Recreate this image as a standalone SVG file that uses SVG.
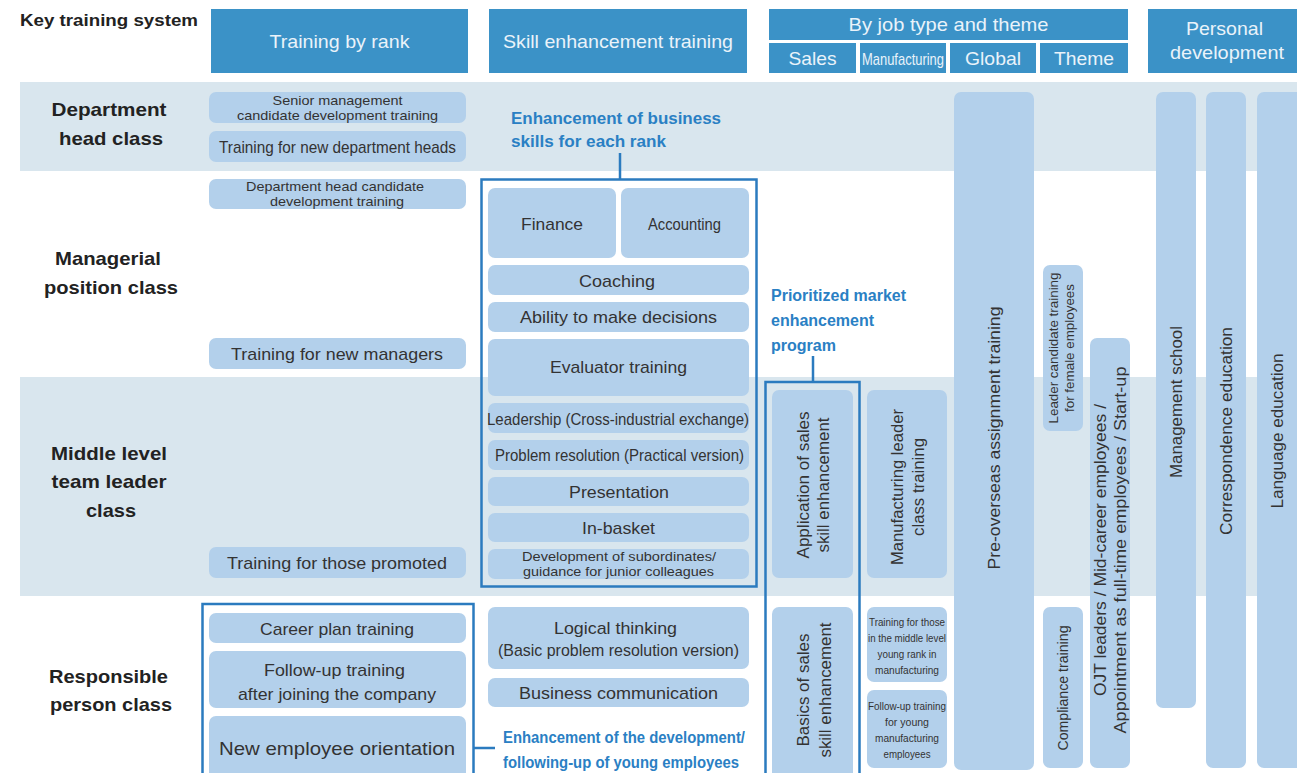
<svg xmlns="http://www.w3.org/2000/svg" width="1297" height="773" viewBox="0 0 1297 773">
<style>
text{font-family:"Liberation Sans",Arial,sans-serif;fill:#333}
.hdr{fill:#3b92c7}
.ht{fill:#eaf3fa;font-size:19px}
.band{fill:#d9e6ee}
.bx{fill:#b3d0eb}
.rl{font-size:19px;font-weight:bold;fill:#222}
.t17{font-size:17px}
.t15{font-size:15px}
.t13{font-size:13px}
.t11{font-size:11px}
.lbl{font-size:16px;font-weight:bold;fill:#2a80c4}
.frame{fill:none;stroke:#2b7bbf;stroke-width:2.5}
.conn{fill:none;stroke:#2b7bbf;stroke-width:2.5}
</style>

<!-- row bands -->
<g id="bands">
<rect class="band" x="20" y="82" width="1277" height="89"/>
<rect class="band" x="20" y="377" width="1277" height="219"/>
</g>

<!-- title -->
<g id="title"><text x="20" y="26" style="font-size:17px;font-weight:bold;fill:#222" textLength="178" lengthAdjust="spacingAndGlyphs">Key training system</text></g>

<!-- headers -->
<g id="hdr-rank"><rect class="hdr" x="211" y="9" width="257" height="64"/><text class="ht" x="339.5" y="48" text-anchor="middle" textLength="140" lengthAdjust="spacingAndGlyphs">Training by rank</text></g>
<g id="hdr-skill"><rect class="hdr" x="489" y="9" width="258" height="64"/><text class="ht" x="618" y="48" text-anchor="middle" textLength="230" lengthAdjust="spacingAndGlyphs">Skill enhancement training</text></g>
<g id="hdr-job"><rect class="hdr" x="769" y="9" width="359" height="31"/><text class="ht" x="948.5" y="31" text-anchor="middle" textLength="200" lengthAdjust="spacingAndGlyphs">By job type and theme</text></g>
<g id="hdr-sales"><rect class="hdr" x="769" y="43" width="87" height="30"/><text class="ht" x="812.5" y="65" text-anchor="middle" textLength="48" lengthAdjust="spacingAndGlyphs">Sales</text></g>
<g id="hdr-mfg"><rect class="hdr" x="860" y="43" width="86" height="30"/><text class="ht" x="903" y="65" text-anchor="middle" style="font-size:17px" textLength="82" lengthAdjust="spacingAndGlyphs">Manufacturing</text></g>
<g id="hdr-global"><rect class="hdr" x="950" y="43" width="86" height="30"/><text class="ht" x="993" y="65" text-anchor="middle" textLength="56" lengthAdjust="spacingAndGlyphs">Global</text></g>
<g id="hdr-theme"><rect class="hdr" x="1040" y="43" width="88" height="30"/><text class="ht" x="1084" y="65" text-anchor="middle" textLength="60" lengthAdjust="spacingAndGlyphs">Theme</text></g>
<g id="hdr-personal"><rect class="hdr" x="1148" y="9" width="149" height="64"/><text class="ht" x="1224.5" y="35" text-anchor="middle" textLength="77" lengthAdjust="spacingAndGlyphs">Personal</text><text class="ht" x="1227" y="59" text-anchor="middle" textLength="114" lengthAdjust="spacingAndGlyphs">development</text></g>

<!-- row labels -->
<g id="row-dept"><text class="rl" x="109" y="116" text-anchor="middle" textLength="115" lengthAdjust="spacingAndGlyphs">Department</text><text class="rl" x="111" y="145" text-anchor="middle" textLength="104" lengthAdjust="spacingAndGlyphs">head class</text></g>
<g id="row-mgr"><text class="rl" x="108" y="265" text-anchor="middle" textLength="106" lengthAdjust="spacingAndGlyphs">Managerial</text><text class="rl" x="111" y="294" text-anchor="middle" textLength="134" lengthAdjust="spacingAndGlyphs">position class</text></g>
<g id="row-mid"><text class="rl" x="109" y="460" text-anchor="middle" textLength="116" lengthAdjust="spacingAndGlyphs">Middle level</text><text class="rl" x="109" y="488" text-anchor="middle" textLength="115" lengthAdjust="spacingAndGlyphs">team leader</text><text class="rl" x="111" y="517" text-anchor="middle" textLength="50" lengthAdjust="spacingAndGlyphs">class</text></g>
<g id="row-resp"><text class="rl" x="108.5" y="683" text-anchor="middle" textLength="119" lengthAdjust="spacingAndGlyphs">Responsible</text><text class="rl" x="111" y="711" text-anchor="middle" textLength="122" lengthAdjust="spacingAndGlyphs">person class</text></g>

<!-- training by rank -->
<g id="n-senior"><rect class="bx" x="209" y="92" width="257" height="31" rx="7"/><text class="t13" x="337.5" y="104.5" text-anchor="middle" textLength="130" lengthAdjust="spacingAndGlyphs">Senior management</text><text class="t13" x="337.5" y="119.5" text-anchor="middle" textLength="201" lengthAdjust="spacingAndGlyphs">candidate development training</text></g>
<g id="n-newdept"><rect class="bx" x="209" y="131" width="257" height="31" rx="7"/><text class="t17" x="337.5" y="153" text-anchor="middle" textLength="237" lengthAdjust="spacingAndGlyphs">Training for new department heads</text></g>
<g id="n-deptcand"><rect class="bx" x="209" y="179" width="257" height="30" rx="7"/><text class="t13" x="335" y="190.5" text-anchor="middle" textLength="178" lengthAdjust="spacingAndGlyphs">Department head candidate</text><text class="t13" x="337" y="205.5" text-anchor="middle" textLength="134" lengthAdjust="spacingAndGlyphs">development training</text></g>
<g id="n-newmgr"><rect class="bx" x="209" y="338" width="257" height="31" rx="7"/><text class="t17" x="337" y="360" text-anchor="middle" textLength="212" lengthAdjust="spacingAndGlyphs">Training for new managers</text></g>
<g id="n-promoted"><rect class="bx" x="209" y="547" width="257" height="31" rx="7"/><text class="t17" x="337" y="569" text-anchor="middle" textLength="220" lengthAdjust="spacingAndGlyphs">Training for those promoted</text></g>
<g id="n-career"><rect class="bx" x="209" y="613" width="257" height="30" rx="7"/><text class="t17" x="337" y="634.5" text-anchor="middle" textLength="154" lengthAdjust="spacingAndGlyphs">Career plan training</text></g>
<g id="n-followup"><rect class="bx" x="209" y="651" width="257" height="57" rx="7"/><text class="t17" x="334.5" y="676" text-anchor="middle" textLength="141" lengthAdjust="spacingAndGlyphs">Follow-up training</text><text class="t17" x="337" y="700" text-anchor="middle" textLength="198" lengthAdjust="spacingAndGlyphs">after joining the company</text></g>
<g id="n-orient"><rect class="bx" x="209" y="716" width="257" height="66" rx="7"/><text x="337" y="755" text-anchor="middle" style="font-size:19px" textLength="236" lengthAdjust="spacingAndGlyphs">New employee orientation</text></g>
<g id="f-young"><rect class="frame" x="202.5" y="604" width="271" height="180"/></g>
<g id="l-young"><text class="lbl" x="503" y="743" textLength="242" lengthAdjust="spacingAndGlyphs">Enhancement of the development/</text><text class="lbl" x="503" y="768" textLength="236" lengthAdjust="spacingAndGlyphs">following-up of young employees</text></g>

<!-- skill enhancement -->
<g id="l-business"><text class="lbl" x="511" y="124" textLength="210" lengthAdjust="spacingAndGlyphs">Enhancement of business</text><text class="lbl" x="511" y="147" textLength="155" lengthAdjust="spacingAndGlyphs">skills for each rank</text></g>
<g id="f-business"><rect class="frame" x="481.5" y="179.5" width="275" height="407"/></g>
<g id="n-finance"><rect class="bx" x="488" y="188" width="128" height="70" rx="7"/><text class="t17" x="552" y="230" text-anchor="middle" textLength="62" lengthAdjust="spacingAndGlyphs">Finance</text></g>
<g id="n-accounting"><rect class="bx" x="621" y="188" width="128" height="70" rx="7"/><text class="t17" x="684.5" y="230" text-anchor="middle" textLength="73" lengthAdjust="spacingAndGlyphs">Accounting</text></g>
<g id="n-coaching"><rect class="bx" x="488" y="265" width="261" height="30" rx="7"/><text class="t17" x="617" y="286.5" text-anchor="middle" textLength="76" lengthAdjust="spacingAndGlyphs">Coaching</text></g>
<g id="n-decisions"><rect class="bx" x="488" y="302" width="261" height="30" rx="7"/><text class="t17" x="618.5" y="323" text-anchor="middle" textLength="197" lengthAdjust="spacingAndGlyphs">Ability to make decisions</text></g>
<g id="n-evaluator"><rect class="bx" x="488" y="339" width="261" height="57" rx="7"/><text class="t17" x="618.5" y="373" text-anchor="middle" textLength="137" lengthAdjust="spacingAndGlyphs">Evaluator training</text></g>
<g id="n-leadership"><rect class="bx" x="488" y="403" width="261" height="30" rx="7"/><text class="t17" x="618" y="424.5" text-anchor="middle" textLength="262" lengthAdjust="spacingAndGlyphs">Leadership (Cross-industrial exchange)</text></g>
<g id="n-problem"><rect class="bx" x="488" y="440" width="261" height="30" rx="7"/><text class="t17" x="619.5" y="461" text-anchor="middle" textLength="249" lengthAdjust="spacingAndGlyphs">Problem resolution (Practical version)</text></g>
<g id="n-presentation"><rect class="bx" x="488" y="477" width="261" height="29" rx="7"/><text class="t17" x="619" y="498" text-anchor="middle" textLength="100" lengthAdjust="spacingAndGlyphs">Presentation</text></g>
<g id="n-inbasket"><rect class="bx" x="488" y="513" width="261" height="29" rx="7"/><text class="t17" x="618.5" y="534" text-anchor="middle" textLength="73" lengthAdjust="spacingAndGlyphs">In-basket</text></g>
<g id="n-subordinates"><rect class="bx" x="488" y="549" width="261" height="30" rx="7"/><text class="t13" x="619" y="560.5" text-anchor="middle" textLength="194" lengthAdjust="spacingAndGlyphs">Development of subordinates/</text><text class="t13" x="618.5" y="575.5" text-anchor="middle" textLength="191" lengthAdjust="spacingAndGlyphs">guidance for junior colleagues</text></g>
<g id="n-logical"><rect class="bx" x="488" y="607" width="261" height="62" rx="7"/><text class="t17" x="615.5" y="634" text-anchor="middle" textLength="123" lengthAdjust="spacingAndGlyphs">Logical thinking</text><text class="t17" x="618.5" y="656" text-anchor="middle" textLength="241" lengthAdjust="spacingAndGlyphs">(Basic problem resolution version)</text></g>
<g id="n-buscomm"><rect class="bx" x="488" y="678" width="261" height="29" rx="7"/><text class="t17" x="618.5" y="699" text-anchor="middle" textLength="199" lengthAdjust="spacingAndGlyphs">Business communication</text></g>

<!-- sales -->
<g id="l-market"><text class="lbl" x="771" y="301" textLength="135" lengthAdjust="spacingAndGlyphs">Prioritized market</text><text class="lbl" x="771" y="326" textLength="103" lengthAdjust="spacingAndGlyphs">enhancement</text><text class="lbl" x="771" y="351" textLength="65" lengthAdjust="spacingAndGlyphs">program</text></g>
<g id="f-market"><rect class="frame" x="765.5" y="382" width="94" height="402"/></g>
<g id="n-salesapp"><rect class="bx" x="772" y="390" width="81" height="188" rx="7"/><g transform="translate(813,485) rotate(-90)"><text class="t17" x="0" y="-4" text-anchor="middle" textLength="147" lengthAdjust="spacingAndGlyphs">Application of sales</text><text class="t17" x="0" y="16" text-anchor="middle" textLength="135" lengthAdjust="spacingAndGlyphs">skill enhancement</text></g></g>
<g id="n-salesbasic"><rect class="bx" x="772" y="607" width="81" height="175" rx="7"/><g transform="translate(813,690) rotate(-90)"><text class="t17" x="0" y="-4" text-anchor="middle" textLength="113" lengthAdjust="spacingAndGlyphs">Basics of sales</text><text class="t17" x="0" y="18" text-anchor="middle" textLength="135" lengthAdjust="spacingAndGlyphs">skill enhancement</text></g></g>

<!-- manufacturing -->
<g id="n-mfgleader"><rect class="bx" x="867" y="390" width="80" height="188" rx="7"/><g transform="translate(907,487) rotate(-90)"><text class="t17" x="0" y="-4" text-anchor="middle" textLength="156" lengthAdjust="spacingAndGlyphs">Manufacturing leader</text><text class="t17" x="0" y="17" text-anchor="middle" textLength="98" lengthAdjust="spacingAndGlyphs">class training</text></g></g>
<g id="n-mfgmid"><rect class="bx" x="867" y="607" width="80" height="75" rx="7"/><text class="t11" x="907" y="626" text-anchor="middle" textLength="76" lengthAdjust="spacingAndGlyphs">Training for those</text><text class="t11" x="907" y="642" text-anchor="middle" textLength="78" lengthAdjust="spacingAndGlyphs">in the middle level</text><text class="t11" x="907" y="658" text-anchor="middle" textLength="59" lengthAdjust="spacingAndGlyphs">young rank in</text><text class="t11" x="907" y="674" text-anchor="middle" textLength="64" lengthAdjust="spacingAndGlyphs">manufacturing</text></g>
<g id="n-mfgyoung"><rect class="bx" x="867" y="690" width="80" height="78" rx="7"/><text class="t11" x="907" y="710" text-anchor="middle" textLength="78" lengthAdjust="spacingAndGlyphs">Follow-up training</text><text class="t11" x="907" y="726" text-anchor="middle" textLength="44" lengthAdjust="spacingAndGlyphs">for young</text><text class="t11" x="907" y="742" text-anchor="middle" textLength="64" lengthAdjust="spacingAndGlyphs">manufacturing</text><text class="t11" x="907" y="758" text-anchor="middle" textLength="47" lengthAdjust="spacingAndGlyphs">employees</text></g>

<!-- global -->
<g id="n-overseas"><rect class="bx" x="954" y="92" width="80" height="678" rx="7"/><g transform="translate(994,438) rotate(-90)"><text class="t17" x="0" y="6" text-anchor="middle" textLength="263" lengthAdjust="spacingAndGlyphs">Pre-overseas assignment training</text></g></g>

<!-- theme -->
<g id="n-female"><rect class="bx" x="1043" y="265" width="40" height="166" rx="7"/><g transform="translate(1063,348) rotate(-90)"><text class="t13" x="0" y="-5" text-anchor="middle" textLength="151" lengthAdjust="spacingAndGlyphs">Leader candidate training</text><text class="t13" x="0" y="11" text-anchor="middle" textLength="128" lengthAdjust="spacingAndGlyphs">for female employees</text></g></g>
<g id="n-compliance"><rect class="bx" x="1043" y="607" width="40" height="161" rx="7"/><g transform="translate(1063,688) rotate(-90)"><text class="t15" x="0" y="5" text-anchor="middle" textLength="125" lengthAdjust="spacingAndGlyphs">Compliance training</text></g></g>
<g id="n-ojt"><rect class="bx" x="1090" y="338" width="40" height="430" rx="7"/><g transform="translate(1110,550) rotate(-90)"><text class="t17" x="0" y="-4" text-anchor="middle" textLength="292" lengthAdjust="spacingAndGlyphs">OJT leaders / Mid-career employees /</text><text class="t17" x="0" y="16" text-anchor="middle" textLength="367" lengthAdjust="spacingAndGlyphs">Appointment as full-time employees / Start-up</text></g></g>

<!-- personal development -->
<g id="n-mgmtschool"><rect class="bx" x="1156" y="92" width="40" height="616" rx="7"/><g transform="translate(1176,402) rotate(-90)"><text class="t17" x="0" y="6" text-anchor="middle" textLength="152" lengthAdjust="spacingAndGlyphs">Management school</text></g></g>
<g id="n-corresp"><rect class="bx" x="1206" y="92" width="40" height="676" rx="7"/><g transform="translate(1226,431) rotate(-90)"><text class="t17" x="0" y="6" text-anchor="middle" textLength="208" lengthAdjust="spacingAndGlyphs">Correspondence education</text></g></g>
<g id="n-language"><rect class="bx" x="1257" y="92" width="50" height="676" rx="7"/><g transform="translate(1277,431) rotate(-90)"><text class="t17" x="0" y="6" text-anchor="middle" textLength="155" lengthAdjust="spacingAndGlyphs">Language education</text></g></g>

<!-- connectors -->
<g id="connectors">
<line class="conn" x1="620" y1="153" x2="620" y2="179"/>
<line class="conn" x1="813" y1="356" x2="813" y2="382"/>
<line class="conn" x1="473" y1="748" x2="495" y2="748"/>
</g>
</svg>
